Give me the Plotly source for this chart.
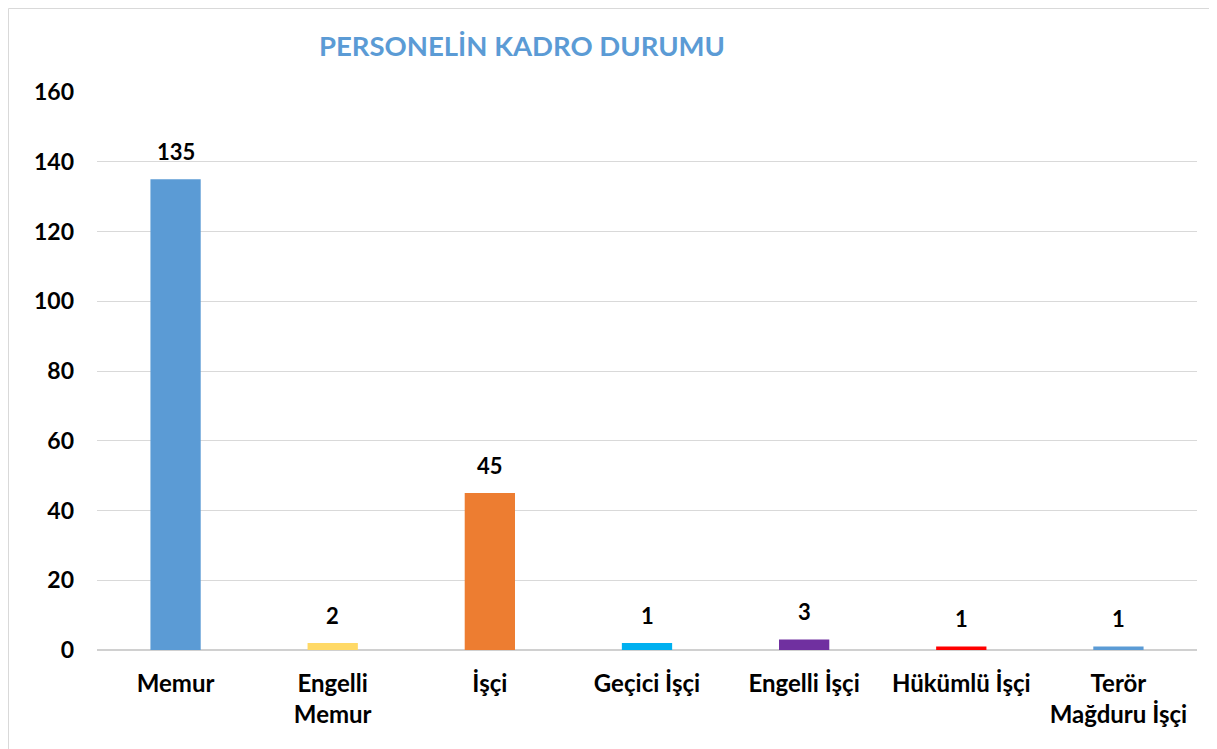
import plotly.graph_objects as go

categories = ["Memur", "Engelli<br>Memur", "İşçi", "Geçici İşçi", "Engelli İşçi", "Hükümlü İşçi", "Terör<br>Mağduru İşçi"]
bar_values = [135, 2, 45, 2, 3, 1, 1]
label_values = [135, 2, 45, 1, 3, 1, 1]
colors = ["#5B9BD5", "#FFD966", "#ED7D31", "#00B0F0", "#7030A0", "#FF0000", "#5B9BD5"]
y_ticks = [0, 20, 40, 60, 80, 100, 120, 140, 160]

W, H = 1217, 749
L, R, T, B = 89, 28, 84, 107
pw, ph = W - L - R, H - T - B

fig = go.Figure(go.Bar(
    x=categories, y=bar_values,
    marker=dict(color=colors, line=dict(width=0)),
    width=0.32,
    hoverinfo="x+y",
))

for c, v, lab in zip(categories, bar_values, label_values):
    fig.add_annotation(x=c, y=v, text=str(lab), showarrow=False,
                       yanchor="middle", yshift=28,
                       font=dict(family="Lato", size=22, color="black", weight="bold"))

fig.update_layout(
    width=W, height=H,
    margin=dict(l=L, r=R, t=T, b=B),
    plot_bgcolor="white", paper_bgcolor="white",
    showlegend=False,
    font=dict(family="Lato", color="black"),
    title=dict(text="PERSONELİN KADRO DURUMU", x=514 / W, xanchor="center",
               y=1 - 38 / H, yanchor="middle",
               font=dict(family="Lato", size=27.5, color="#5B9BD5", weight="bold")),
    xaxis=dict(showgrid=False, showline=False, ticks="",
               tickfont=dict(family="Lato", size=24, color="black", weight="bold"),
               ticklabelstandoff=17),
    yaxis=dict(range=[0, 160], tickvals=y_ticks, showgrid=True, gridcolor="#D9D9D9",
               gridwidth=1, zeroline=True, zerolinecolor="#D0D0D0", zerolinewidth=2,
               tickfont=dict(family="Lato", size=23, color="black", weight="bold"),
               ticklabelstandoff=22, showline=False),
    shapes=[dict(type="rect", xref="paper", yref="paper",
                 x0=-(L - 0.5) / pw, x1=(1208 - L) / pw,
                 y0=-(B + 20) / ph, y1=1 + (T - 0.5) / ph,
                 line=dict(color="#D9D9D9", width=1), fillcolor="rgba(0,0,0,0)", layer="below")],
)

fig.write_html("out.html")
